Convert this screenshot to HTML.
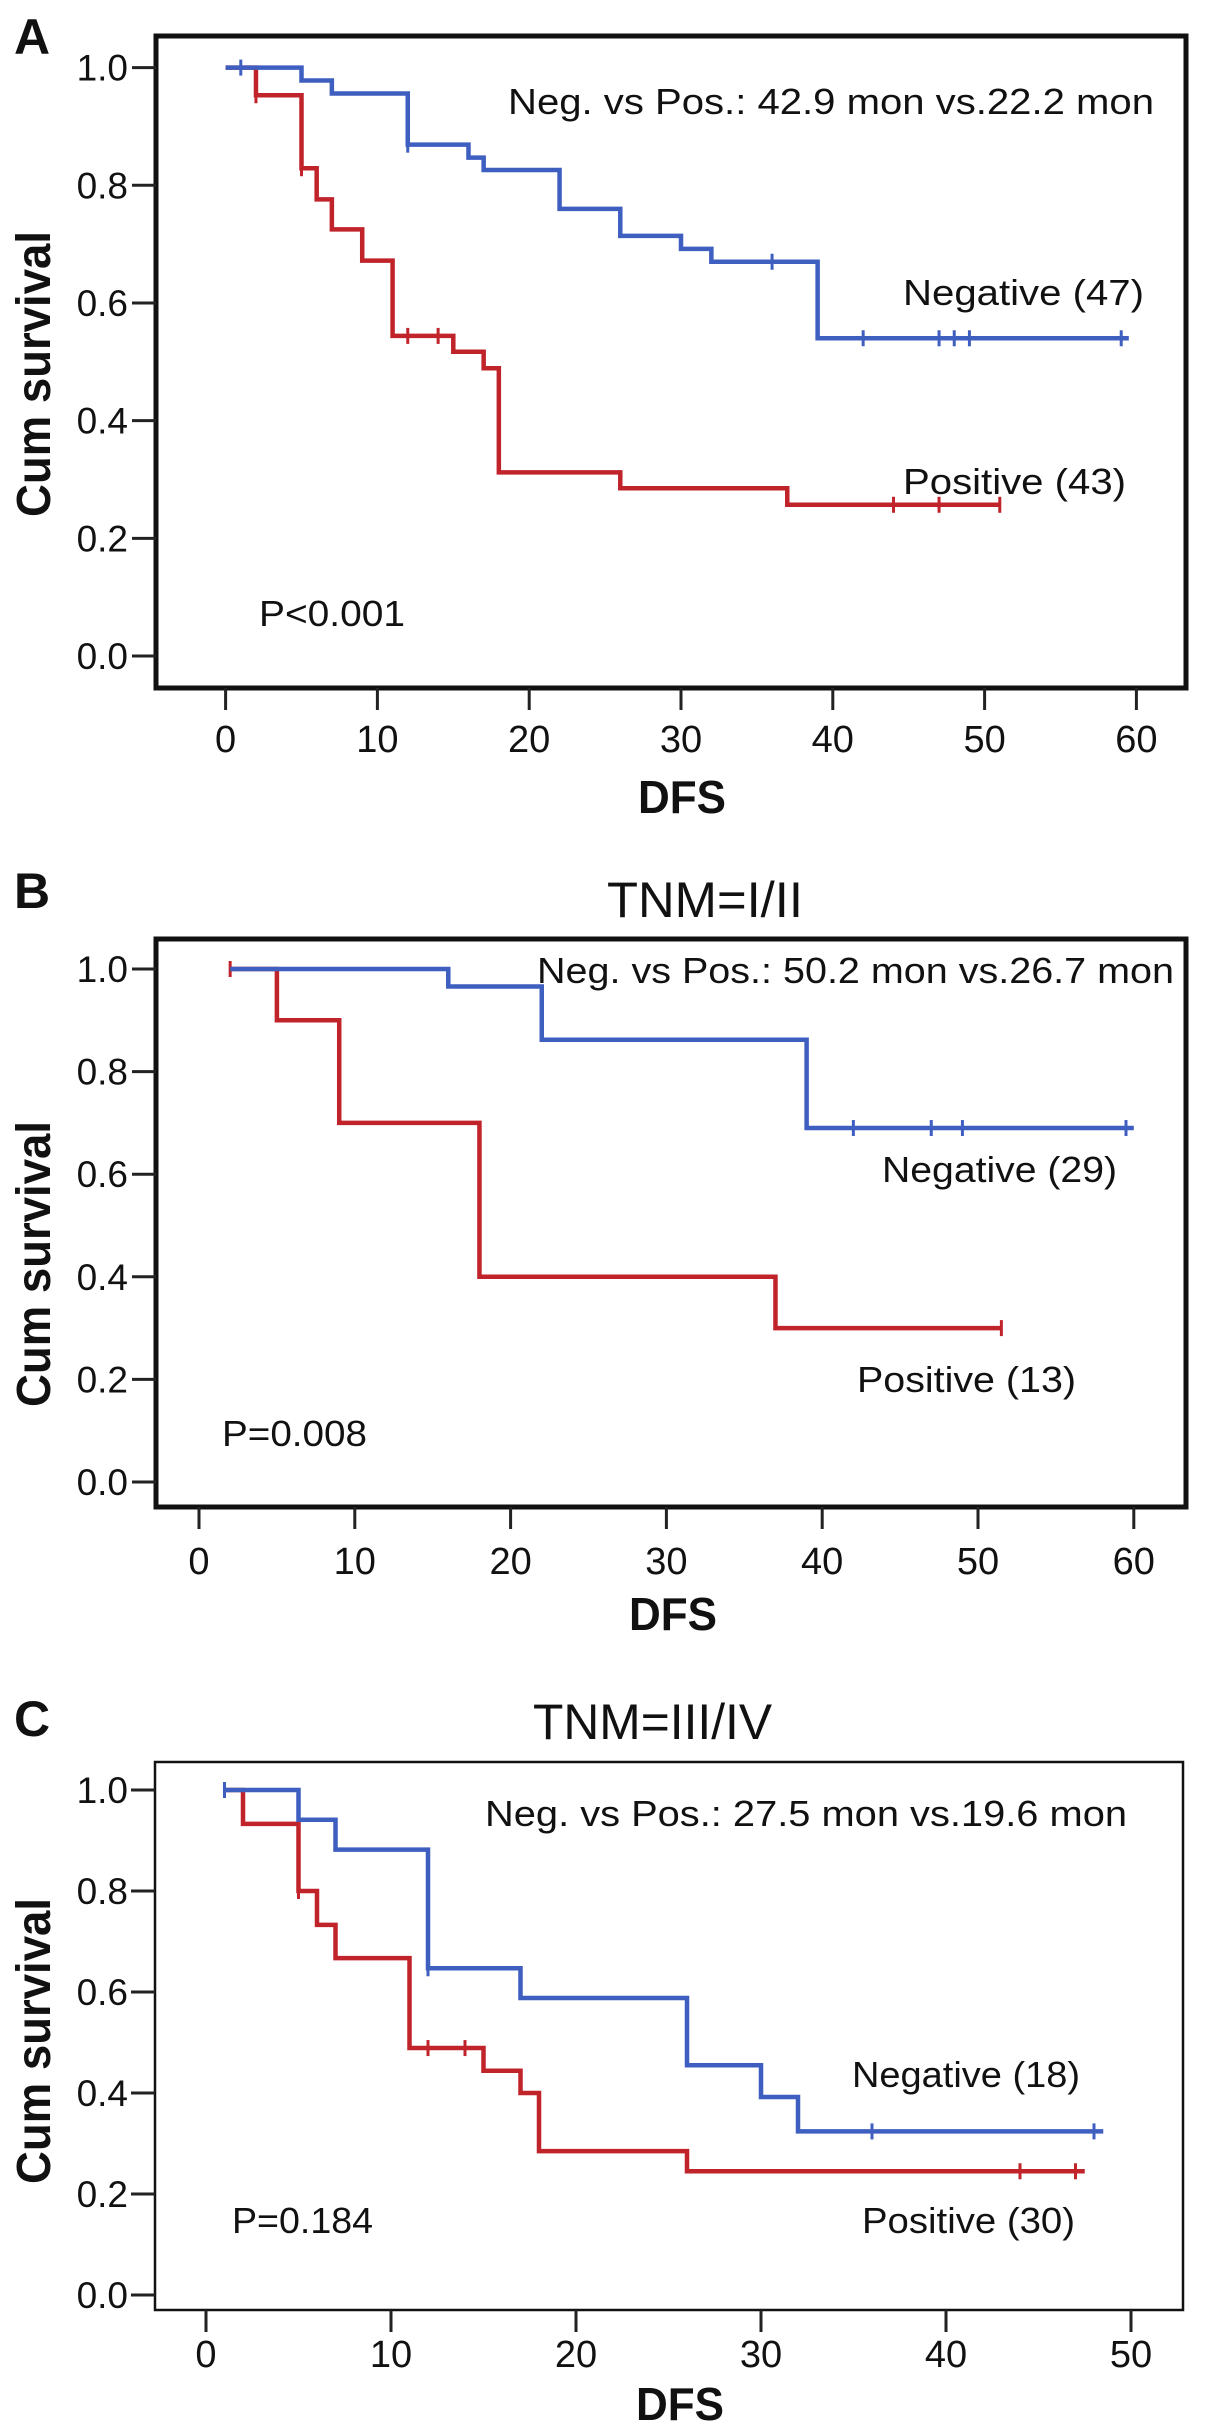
<!DOCTYPE html>
<html><head><meta charset="utf-8"><style>
html,body{margin:0;padding:0;background:#fff;}
svg{display:block;}
text{font-family:"Liberation Sans",sans-serif;fill:#111;}
</style></head><body>
<svg id="fig" width="1205" height="2426" viewBox="0 0 1205 2426" xmlns="http://www.w3.org/2000/svg"></svg>
<script>
// Panel A data
const aNegT=[0,5,7,12,16,17,22,26,30,32,39];
const aNegS=[1.0,0.978,0.956,0.869,0.847,0.826,0.76,0.714,0.692,0.670,0.540];
const aNegCens=[1,12,36,42,47,48,49,59];
const aNegEnd=59.5;
const aPosT=[0,2,5,6,7,9,11,15,17,18,26,37];
const aPosS=[1.0,0.953,0.829,0.776,0.725,0.672,0.544,0.517,0.489,0.312,0.285,0.257];
const aPosCens=[2,5,12,14,44,47,51];
const aPosEnd=51;
// Panel B data
const bNegT=[2,16,22,39];
const bNegS=[1.0,0.966,0.862,0.690];
const bNegCens=[42,47,49,59.5];
const bNegEnd=60;
const bPosT=[2,5,9,18,37];
const bPosS=[1.0,0.9,0.7,0.4,0.3];
const bPosCens=[2,51.5];
const bPosEnd=51.5;
// Panel C data
const cNegT=[1,5,7,12,17,26,30,32];
const cNegS=[1.0,0.941,0.882,0.647,0.588,0.455,0.392,0.324];
const cNegCens=[1,12,36,48];
const cNegEnd=48.5;
const cPosT=[1,2,5,6,7,11,15,17,18,26];
const cPosS=[1.0,0.933,0.8,0.733,0.667,0.489,0.444,0.4,0.285,0.245];
const cPosCens=[5,12,14,44,47];
const cPosEnd=47.5;
const yTickLabels=["0.0","0.2","0.4","0.6","0.8","1.0"];
const xTicksAB=[0,10,20,30,40,50,60];
const xTicksC=[0,10,20,30,40,50];

const NS="http://www.w3.org/2000/svg";
const svg=document.getElementById('fig');
const BLUE="#3e5fc0", RED="#c1232b";
function mk(tag,attrs,parent){const e=document.createElementNS(NS,tag);for(const k in attrs)e.setAttribute(k,attrs[k]);(parent||svg).appendChild(e);return e;}
function txt(s,x,y,size,opts,parent){opts=opts||{};const a={x:x,y:y,'font-size':size};if(opts.anchor)a['text-anchor']=opts.anchor;if(opts.bold)a['font-weight']='bold';if(opts.len){a.textLength=opts.len;a.lengthAdjust='spacingAndGlyphs';}if(opts.tr)a.transform=opts.tr;const t=mk('text',a,parent);t.textContent=s;return t;}

function panel(cfg){
  const g=mk('g',{});
  
  
  const X=v=>cfg.x0+(v-0)*cfg.xs;
  const Y=v=>cfg.y0-(v)*cfg.ys;
  // box
  const box=mk('rect',{x:cfg.bx1,y:cfg.by1,width:cfg.bx2-cfg.bx1,height:cfg.by2-cfg.by1,fill:'none',stroke:'#111','stroke-width':cfg.bw},g);
  
  
  // y ticks
  yTickLabels.forEach((lab,i)=>{const v=i*0.2;const y=Y(v);
    mk('line',{x1:cfg.bx1-24,x2:cfg.bx1,y1:y,y2:y,stroke:'#222','stroke-width':3},g);
    const t=txt(lab,128,y+13,37,{anchor:'end'},g);
    
    
  });
  // x ticks
  cfg.xticks.forEach(v=>{const x=X(v);
    mk('line',{x1:x,x2:x,y1:cfg.by2,y2:cfg.by2+22,stroke:'#222','stroke-width':3},g);
    const t=txt(String(v),x,cfg.xly,38,{anchor:'middle'},g);
    
    
  });
  // curves
  function curve(T,S,cens,end,color,name){
    let d='M'+X(T[0])+' '+Y(S[0]);
    for(let i=1;i<T.length;i++){d+=' H'+X(T[i])+' V'+Y(S[i]);}
    d+=' H'+X(end);
    const p=mk('path',{d:d,fill:'none',stroke:color,'stroke-width':4.5,'stroke-linejoin':'miter'},g);
    
    
    cens.forEach(c=>{let s=S[0];for(let i=0;i<T.length;i++){if(T[i]<=c)s=S[i];}
      const m=mk('line',{x1:X(c),x2:X(c),y1:Y(s)-8,y2:Y(s)+8,stroke:color,'stroke-width':3},g);
      
      
    });
  }
  curve(cfg.pT,cfg.pS,cfg.pC,cfg.pE,RED,'positive-curve');
  curve(cfg.nT,cfg.nS,cfg.nC,cfg.nE,BLUE,'negative-curve');
  // labels
  const yl=txt('Cum survival',0,0,48,{bold:true,anchor:'middle',len:286,tr:'translate(50,'+cfg.ylc+') rotate(-90)'},g);
  
  
  const xl=txt('DFS',cfg.dfsx,cfg.dfsy,46,{bold:true,anchor:'middle',len:88},g);
  
  
  const pl=txt(cfg.letter,14,cfg.lety,50,{bold:true},g);
  
  
  cfg.texts.forEach(tt=>{const t=txt(tt[0],tt[1],tt[3],tt[4]||36,{len:tt[2]-tt[1]},g);
    
    });
}

panel({name:'panel-a',letter:'A',lety:54,x0:225.6,xs:15.18,y0:656,ys:588.4,
 bx1:156,by1:36,bx2:1186,by2:688,bw:5,xticks:xTicksAB,xly:752,ylc:374,dfsx:682,dfsy:813,
 nT:aNegT,nS:aNegS,nC:aNegCens,nE:aNegEnd,pT:aPosT,pS:aPosS,pC:aPosCens,pE:aPosEnd,
 texts:[["Neg. vs Pos.: 42.9 mon vs.22.2 mon",508,1154,114,36,'median-comparison'],
  ["Negative (47)",903,1144,305,36,'negative-label'],
  ["Positive (43)",903,1126,494,36,'positive-label'],
  ["P<0.001",259,405,626,36,'p-value']]});

panel({name:'panel-b',letter:'B',lety:908,x0:199,xs:15.58,y0:1482,ys:513,
 bx1:156,by1:939,bx2:1186,by2:1507,bw:5,xticks:xTicksAB,xly:1574,ylc:1264,dfsx:673,dfsy:1630,
 nT:bNegT,nS:bNegS,nC:bNegCens,nE:bNegEnd,pT:bPosT,pS:bPosS,pC:bPosCens,pE:bPosEnd,
 texts:[["TNM=I/II",607,803,917,50,'panel-title'],
  ["Neg. vs Pos.: 50.2 mon vs.26.7 mon",537,1174,983,36,'median-comparison'],
  ["Negative (29)",882,1117,1182,36,'negative-label'],
  ["Positive (13)",857,1076,1392,36,'positive-label'],
  ["P=0.008",222,367,1446,36,'p-value']]});

panel({name:'panel-c',letter:'C',lety:1736,x0:206,xs:18.5,y0:2295,ys:505,
 bx1:155,by1:1762,bx2:1183,by2:2310,bw:2.5,xticks:xTicksC,xly:2367,ylc:2041,dfsx:680,dfsy:2420,
 nT:cNegT,nS:cNegS,nC:cNegCens,nE:cNegEnd,pT:cPosT,pS:cPosS,pC:cPosCens,pE:cPosEnd,
 texts:[["TNM=III/IV",533,772,1739,50,'panel-title'],
  ["Neg. vs Pos.: 27.5 mon vs.19.6 mon",485,1127,1826,36,'median-comparison'],
  ["Negative (18)",852,1080,2087,36,'negative-label'],
  ["Positive (30)",862,1075,2233,36,'positive-label'],
  ["P=0.184",232,373,2233,36,'p-value']]});
</script>
</body></html>
